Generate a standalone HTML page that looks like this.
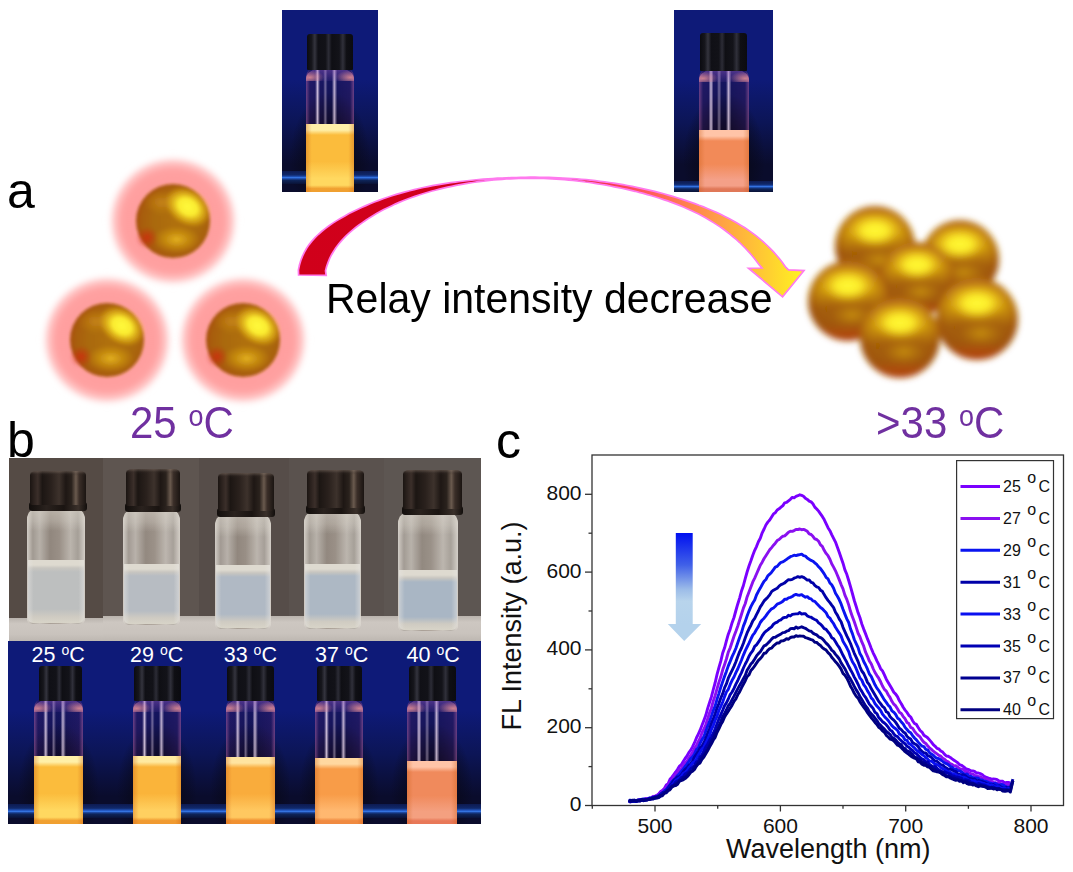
<!DOCTYPE html>
<html><head><meta charset="utf-8"><style>
html,body{margin:0;padding:0;background:#fff;}
body{width:1073px;height:872px;position:relative;overflow:hidden;font-family:"Liberation Sans", sans-serif;}
.t{position:absolute;white-space:nowrap;line-height:1;font-family:"Liberation Sans", sans-serif;}
</style></head><body>

<div class="t" style="left:7px;top:166px;font-size:50px;color:#000;">a</div>
<div class="t" style="left:7px;top:415px;font-size:50px;color:#000;">b</div>
<div class="t" style="left:496px;top:415.5px;font-size:50px;color:#000;">c</div>
<div style="position:absolute;left:282px;top:10px;width:96px;height:182px;overflow:hidden;background:linear-gradient(180deg,#0e1a78 0%,#0e1a78 38%,#0c1556 62%,#0a0c2c 85%,#0a0c2c 100%);"><div style="position:absolute;left:8px;top:70px;width:80px;height:122px;background:radial-gradient(ellipse 50% 55% at 50% 65%,rgba(8,8,22,0.9) 40%,rgba(8,8,22,0) 100%);"></div><div style="position:absolute;left:0;top:161px;width:96px;height:13px;background:linear-gradient(180deg,rgba(14,30,90,0.8) 0%,#10286a 30%,#2256c0 46%,#3c80f0 52%,#2050b0 58%,#0e2458 72%,#0a1236 100%);"></div><div style="position:absolute;left:24px;top:57px;width:48px;height:125px;border-radius:10px 10px 2px 2px / 10px 10px 2px 2px;background:linear-gradient(90deg,rgba(0,0,0,0) 19%,rgba(255,235,255,0.75) 24%,rgba(0,0,0,0) 29%,rgba(0,0,0,0) 36%,rgba(255,235,255,0.4) 40%,rgba(0,0,0,0) 45%,rgba(0,0,0,0) 54%,rgba(255,235,255,0.7) 59%,rgba(0,0,0,0) 65%),linear-gradient(90deg,rgba(170,90,150,0.6) 0%,rgba(60,25,80,0.4) 8%,rgba(30,12,50,0.35) 50%,rgba(60,25,80,0.4) 92%,rgba(170,90,150,0.6) 100%);"></div><div style="position:absolute;left:24px;top:59px;width:48px;height:12px;border-radius:12px 12px 0 0 / 10px 10px 0 0;background:radial-gradient(ellipse 30% 60% at 8% 70%,rgba(240,150,150,0.8),rgba(240,150,150,0) 100%),radial-gradient(ellipse 30% 60% at 92% 70%,rgba(240,150,150,0.8),rgba(240,150,150,0) 100%),linear-gradient(180deg,rgba(150,90,190,0.45),rgba(150,90,190,0.1));"></div><div style="position:absolute;left:24px;top:114px;width:48px;height:68px;background:linear-gradient(90deg,rgba(200,90,20,0.35) 0%,rgba(200,90,20,0) 12%,rgba(200,90,20,0) 88%,rgba(200,90,20,0.35) 100%),linear-gradient(180deg,#fff0a8 0px,#fff0a8 6px,#fbbc3c 11px,#fbbc3c 55%,#ffd860 80%,#ffd860 90%,#f0a030 95%,#f0a030 100%);"></div><div style="position:absolute;left:25px;top:24px;width:46px;height:36px;border-radius:3px 3px 1px 1px;background:linear-gradient(90deg,#0b0b10 0%,#16161c 10%,#34343e 17%,#101016 24%,#121218 40%,#2c2c36 47%,#0f0f14 54%,#131319 70%,#30303a 78%,#0f0f14 86%,#0b0b10 100%);"></div></div>
<div style="position:absolute;left:674px;top:10px;width:99px;height:182px;overflow:hidden;background:linear-gradient(180deg,#0e1a78 0%,#0e1a78 38%,#0c1556 62%,#0a0c2c 85%,#0a0c2c 100%);"><div style="position:absolute;left:9px;top:71px;width:82px;height:121px;background:radial-gradient(ellipse 50% 55% at 50% 65%,rgba(8,8,22,0.9) 40%,rgba(8,8,22,0) 100%);"></div><div style="position:absolute;left:0;top:171px;width:99px;height:11px;background:linear-gradient(180deg,rgba(14,30,90,0.8) 0%,#10286a 30%,#2256c0 46%,#3c80f0 52%,#2050b0 58%,#0e2458 72%,#0a1236 100%);"></div><div style="position:absolute;left:25px;top:58px;width:50px;height:124px;border-radius:10px 10px 2px 2px / 10px 10px 2px 2px;background:linear-gradient(90deg,rgba(0,0,0,0) 19%,rgba(255,235,255,0.75) 24%,rgba(0,0,0,0) 29%,rgba(0,0,0,0) 36%,rgba(255,235,255,0.4) 40%,rgba(0,0,0,0) 45%,rgba(0,0,0,0) 54%,rgba(255,235,255,0.7) 59%,rgba(0,0,0,0) 65%),linear-gradient(90deg,rgba(170,90,150,0.6) 0%,rgba(60,25,80,0.4) 8%,rgba(30,12,50,0.35) 50%,rgba(60,25,80,0.4) 92%,rgba(170,90,150,0.6) 100%);"></div><div style="position:absolute;left:25px;top:60px;width:50px;height:12px;border-radius:12px 12px 0 0 / 10px 10px 0 0;background:radial-gradient(ellipse 30% 60% at 8% 70%,rgba(240,150,150,0.8),rgba(240,150,150,0) 100%),radial-gradient(ellipse 30% 60% at 92% 70%,rgba(240,150,150,0.8),rgba(240,150,150,0) 100%),linear-gradient(180deg,rgba(150,90,190,0.45),rgba(150,90,190,0.1));"></div><div style="position:absolute;left:25px;top:120px;width:50px;height:62px;background:linear-gradient(90deg,rgba(200,90,20,0.35) 0%,rgba(200,90,20,0) 12%,rgba(200,90,20,0) 88%,rgba(200,90,20,0.35) 100%),linear-gradient(180deg,#ffc4a8 0px,#ffc4a8 6px,#f28a58 11px,#f28a58 55%,#f4a088 80%,#f4a088 90%,#e07858 95%,#e07858 100%);"></div><div style="position:absolute;left:26px;top:23px;width:47px;height:38px;border-radius:3px 3px 1px 1px;background:linear-gradient(90deg,#0b0b10 0%,#16161c 10%,#34343e 17%,#101016 24%,#121218 40%,#2c2c36 47%,#0f0f14 54%,#131319 70%,#30303a 78%,#0f0f14 86%,#0b0b10 100%);"></div></div>
<svg style="position:absolute;left:0;top:0" width="1073" height="872" viewBox="0 0 1073 872"><defs><radialGradient id="gbase" cx="0.55" cy="0.5" r="0.58">
<stop offset="0" stop-color="#b07008"/><stop offset="0.5" stop-color="#aa6a08"/><stop offset="0.8" stop-color="#a85e0a"/><stop offset="1" stop-color="#a84c16"/></radialGradient>
<radialGradient id="ghi" cx="0.5" cy="0.5" r="0.5"><stop offset="0" stop-color="#fffa3c"/><stop offset="0.4" stop-color="#fff232" stop-opacity="0.95"/><stop offset="0.75" stop-color="#f8d020" stop-opacity="0.45"/><stop offset="1" stop-color="#e8b818" stop-opacity="0"/></radialGradient>
<radialGradient id="glo" cx="0.5" cy="0.5" r="0.5"><stop offset="0" stop-color="#e6b420" stop-opacity="0.95"/><stop offset="1" stop-color="#d8a010" stop-opacity="0"/></radialGradient>
<radialGradient id="gor" cx="0.5" cy="0.5" r="0.5"><stop offset="0" stop-color="#cc8a1c" stop-opacity="0.8"/><stop offset="1" stop-color="#c08018" stop-opacity="0"/></radialGradient>
<radialGradient id="gred" cx="0.5" cy="0.5" r="0.5"><stop offset="0" stop-color="#d02a10" stop-opacity="0.85"/><stop offset="1" stop-color="#c03010" stop-opacity="0"/></radialGradient>
<radialGradient id="halo" cx="0.5" cy="0.5" r="0.5"><stop offset="0" stop-color="#ff9e9e"/><stop offset="0.76" stop-color="#ffa0a0"/><stop offset="0.88" stop-color="#ffb4b4" stop-opacity="0.75"/><stop offset="1" stop-color="#ffffff" stop-opacity="0"/></radialGradient>
<filter id="b1" x="-20%" y="-20%" width="140%" height="140%"><feGaussianBlur stdDeviation="1.7"/></filter>
<filter id="b3" x="-20%" y="-20%" width="140%" height="140%"><feGaussianBlur stdDeviation="2.5"/></filter></defs><circle cx="173" cy="221" r="67" fill="url(#halo)" filter="url(#b3)"/><circle cx="107" cy="340" r="67" fill="url(#halo)" filter="url(#b3)"/><circle cx="243" cy="340" r="67" fill="url(#halo)" filter="url(#b3)"/><g filter="url(#b1)"><circle cx="173" cy="221" r="37" fill="url(#gbase)"/><ellipse cx="161.9" cy="202.5" rx="18.5" ry="12.9" fill="url(#gor)"/><ellipse cx="176.7" cy="239.5" rx="24.1" ry="14.1" fill="url(#glo)"/><ellipse cx="147.1" cy="237.7" rx="11.1" ry="11.1" fill="url(#gred)"/><ellipse cx="187.8" cy="206.9" rx="25.2" ry="18.5" transform="rotate(32 187.8 206.9)" fill="url(#ghi)"/></g><g filter="url(#b1)"><circle cx="107" cy="340" r="37" fill="url(#gbase)"/><ellipse cx="95.9" cy="321.5" rx="18.5" ry="12.9" fill="url(#gor)"/><ellipse cx="110.7" cy="358.5" rx="24.1" ry="14.1" fill="url(#glo)"/><ellipse cx="81.1" cy="356.6" rx="11.1" ry="11.1" fill="url(#gred)"/><ellipse cx="121.8" cy="325.9" rx="25.2" ry="18.5" transform="rotate(32 121.8 325.9)" fill="url(#ghi)"/></g><g filter="url(#b1)"><circle cx="243" cy="340" r="37" fill="url(#gbase)"/><ellipse cx="231.9" cy="321.5" rx="18.5" ry="12.9" fill="url(#gor)"/><ellipse cx="246.7" cy="358.5" rx="24.1" ry="14.1" fill="url(#glo)"/><ellipse cx="217.1" cy="356.6" rx="11.1" ry="11.1" fill="url(#gred)"/><ellipse cx="257.8" cy="325.9" rx="25.2" ry="18.5" transform="rotate(32 257.8 325.9)" fill="url(#ghi)"/></g></svg>
<svg style="position:absolute;left:0;top:0" width="1073" height="872" viewBox="0 0 1073 872">
<defs><linearGradient id="ag" x1="298" y1="0" x2="805" y2="0" gradientUnits="userSpaceOnUse">
<stop offset="0" stop-color="#d0001a"/><stop offset="0.45" stop-color="#d2001e"/><stop offset="0.66" stop-color="#ff4c5c"/>
<stop offset="0.82" stop-color="#ff9a48"/><stop offset="0.93" stop-color="#ffd030"/><stop offset="1" stop-color="#fff520"/></linearGradient></defs>
<path d="M298.6,275.0 L298.4,270.0 L299.4,265.3 L300.7,260.7 L302.4,256.4 L304.3,252.3 L306.6,248.3 L309.1,244.6 L311.9,241.1 L315.0,237.7 L318.2,234.5 L321.6,231.5 L325.2,228.6 L329.0,225.8 L332.8,223.1 L336.8,220.6 L340.8,218.2 L344.9,215.9 L349.0,213.6 L353.2,211.5 L357.4,209.4 L361.6,207.5 L365.9,205.6 L370.1,203.8 L374.4,202.0 L378.8,200.4 L383.1,198.8 L387.5,197.3 L391.9,195.8 L396.3,194.4 L400.8,193.1 L405.3,191.9 L409.7,190.7 L414.2,189.6 L418.8,188.5 L423.3,187.5 L427.9,186.6 L432.4,185.7 L437.0,184.9 L441.6,184.1 L446.2,183.4 L450.8,182.7 L455.5,182.1 L460.1,181.5 L464.8,181.0 L469.4,180.5 L474.1,180.0 L478.7,179.6 L483.4,179.2 L488.1,178.8 L492.8,178.5 L497.4,178.2 L502.1,178.0 L506.8,177.8 L511.5,177.6 L516.1,177.5 L520.8,177.3 L525.5,177.3 L530.2,177.2 L534.9,177.2 L539.5,177.3 L544.2,177.3 L548.9,177.4 L553.5,177.6 L558.2,177.8 L562.9,178.0 L567.5,178.3 L572.2,178.6 L576.8,178.9 L581.5,179.3 L586.1,179.7 L590.7,180.2 L595.3,180.7 L600.0,181.3 L604.6,181.9 L609.2,182.5 L613.8,183.2 L618.4,183.9 L622.9,184.7 L627.5,185.5 L632.1,186.4 L636.6,187.3 L641.2,188.3 L645.7,189.3 L650.2,190.3 L654.7,191.4 L659.2,192.6 L663.7,193.8 L668.2,195.1 L672.7,196.4 L677.1,197.7 L681.5,199.1 L686.0,200.6 L690.4,202.1 L694.8,203.6 L699.1,205.3 L703.5,206.9 L707.8,208.7 L712.1,210.5 L716.4,212.4 L720.6,214.3 L724.8,216.4 L728.9,218.5 L733.0,220.7 L737.0,223.0 L741.0,225.4 L744.9,227.8 L748.7,230.4 L752.5,233.1 L756.2,235.9 L759.8,238.8 L763.3,241.8 L766.7,245.0 L770.1,248.3 L773.3,251.6 L776.5,255.2 L779.5,258.8 L782.4,262.6 L785.2,266.6 L788.5,269.8 L804.0,270.6 L782.6,296.8 L748.5,268.2 L762.0,268.0 L759.3,264.9 L756.7,261.4 L754.0,258.0 L751.3,254.7 L748.5,251.6 L745.6,248.5 L742.6,245.5 L739.6,242.5 L736.5,239.7 L733.3,237.0 L730.1,234.3 L726.8,231.8 L723.5,229.3 L720.1,226.9 L716.6,224.6 L713.1,222.4 L709.6,220.2 L705.9,218.1 L702.3,216.1 L698.6,214.1 L694.8,212.3 L691.1,210.5 L687.2,208.7 L683.4,207.0 L679.5,205.4 L675.6,203.9 L671.6,202.4 L667.7,200.9 L663.6,199.6 L659.6,198.2 L655.6,197.0 L651.5,195.7 L647.4,194.6 L643.3,193.4 L639.2,192.4 L635.1,191.3 L631.0,190.3 L626.9,189.4 L622.7,188.5 L618.6,187.6 L614.4,186.8 L610.3,186.0 L606.2,185.2 L602.0,184.5 L597.9,183.8 L593.7,183.1 L589.6,182.5 L585.4,182.0 L581.3,181.4 L577.1,180.9 L572.9,180.5 L568.8,180.1 L564.6,179.7 L560.5,179.4 L556.3,179.1 L552.1,178.9 L548.0,178.7 L543.8,178.5 L539.6,178.4 L535.5,178.3 L531.3,178.3 L527.1,178.3 L522.9,178.4 L518.8,178.5 L514.6,178.6 L510.4,178.8 L506.2,179.0 L502.1,179.3 L497.9,179.6 L493.7,180.0 L489.5,180.4 L485.3,180.9 L481.1,181.4 L476.9,181.9 L472.8,182.5 L468.6,183.2 L464.4,183.9 L460.2,184.6 L456.0,185.4 L451.8,186.3 L447.7,187.2 L443.5,188.1 L439.4,189.1 L435.2,190.2 L431.1,191.3 L427.0,192.5 L422.9,193.7 L418.9,195.0 L414.9,196.4 L410.9,197.8 L406.9,199.3 L403.0,200.8 L399.1,202.4 L395.2,204.1 L391.4,205.9 L387.6,207.7 L383.8,209.6 L380.1,211.6 L376.5,213.6 L372.9,215.7 L369.3,217.9 L365.8,220.2 L362.4,222.6 L359.0,225.0 L355.7,227.5 L352.5,230.1 L349.3,232.8 L346.3,235.6 L343.4,238.6 L340.7,241.6 L338.1,244.8 L335.7,248.1 L333.5,251.5 L331.4,255.0 L329.6,258.7 L328.0,262.6 L326.6,266.6 L325.5,270.8 L326.2,275.4 Z" fill="url(#ag)" stroke="#ff7aee" stroke-width="1.7" stroke-linejoin="miter"/>
</svg>
<div class="t" style="left:326px;top:278px;font-size:41px;color:#000;transform:scaleY(1.04);transform-origin:0 0;">Relay intensity decrease</div>
<svg style="position:absolute;left:0;top:0" width="1073" height="872" viewBox="0 0 1073 872"><defs><linearGradient id="cb" x1="0" y1="0" x2="0" y2="1"><stop offset="0" stop-color="#c8841a"/><stop offset="0.15" stop-color="#dca818"/><stop offset="0.35" stop-color="#d09a10"/><stop offset="0.58" stop-color="#a45e06"/><stop offset="0.8" stop-color="#a05808"/><stop offset="0.93" stop-color="#b84812"/><stop offset="1" stop-color="#c03c12"/></linearGradient><radialGradient id="crim" cx="0.5" cy="0.5" r="0.5"><stop offset="0.7" stop-color="#9a5008" stop-opacity="0"/><stop offset="1" stop-color="#a04c10" stop-opacity="0.6"/></radialGradient><radialGradient id="chi" cx="0.5" cy="0.5" r="0.5"><stop offset="0" stop-color="#fffa34"/><stop offset="0.45" stop-color="#fff02c" stop-opacity="0.95"/><stop offset="0.8" stop-color="#f0c818" stop-opacity="0.35"/><stop offset="1" stop-color="#e0b010" stop-opacity="0"/></radialGradient><radialGradient id="clo" cx="0.5" cy="0.5" r="0.5"><stop offset="0" stop-color="#d09a14" stop-opacity="0.8"/><stop offset="1" stop-color="#c08a10" stop-opacity="0"/></radialGradient><filter id="cbl" x="-10%" y="-10%" width="120%" height="120%"><feGaussianBlur stdDeviation="3.2"/></filter></defs><g filter="url(#cbl)"><circle cx="875" cy="246" r="40" fill="url(#cb)"/><circle cx="875" cy="246" r="40" fill="url(#crim)"/><ellipse cx="879.0" cy="260.0" rx="22.0" ry="12.0" fill="url(#clo)"/><ellipse cx="875.0" cy="230.8" rx="28.0" ry="16.8" fill="url(#chi)"/><circle cx="960" cy="259" r="39" fill="url(#cb)"/><circle cx="960" cy="259" r="39" fill="url(#crim)"/><ellipse cx="963.9" cy="272.6" rx="21.5" ry="11.7" fill="url(#clo)"/><ellipse cx="960.0" cy="244.2" rx="27.3" ry="16.4" fill="url(#chi)"/><circle cx="917" cy="279" r="37" fill="url(#cb)"/><circle cx="917" cy="279" r="37" fill="url(#crim)"/><ellipse cx="920.7" cy="291.9" rx="20.4" ry="11.1" fill="url(#clo)"/><ellipse cx="917.0" cy="264.9" rx="25.9" ry="15.5" fill="url(#chi)"/><circle cx="848" cy="301" r="40" fill="url(#cb)"/><circle cx="848" cy="301" r="40" fill="url(#crim)"/><ellipse cx="852.0" cy="315.0" rx="22.0" ry="12.0" fill="url(#clo)"/><ellipse cx="848.0" cy="285.8" rx="28.0" ry="16.8" fill="url(#chi)"/><circle cx="977" cy="319" r="41" fill="url(#cb)"/><circle cx="977" cy="319" r="41" fill="url(#crim)"/><ellipse cx="981.1" cy="333.4" rx="22.6" ry="12.3" fill="url(#clo)"/><ellipse cx="977.0" cy="303.4" rx="28.7" ry="17.2" fill="url(#chi)"/><circle cx="900" cy="338" r="40" fill="url(#cb)"/><circle cx="900" cy="338" r="40" fill="url(#crim)"/><ellipse cx="904.0" cy="352.0" rx="22.0" ry="12.0" fill="url(#clo)"/><ellipse cx="900.0" cy="322.8" rx="28.0" ry="16.8" fill="url(#chi)"/></g></svg>
<div class="t" style="left:130px;top:401px;font-size:42px;color:#7030a0;transform:scaleY(1.06);transform-origin:0 0;">25 <span style="font-size:27px;vertical-align:11px;">o</span>C</div>
<div class="t" style="left:876px;top:401px;font-size:42px;color:#7030a0;transform:scaleY(1.06);transform-origin:0 0;">&gt;33 <span style="font-size:27px;vertical-align:11px;">o</span>C</div>
<div style="position:absolute;left:9px;top:458px;width:94px;height:183px;overflow:hidden;background:#554b45;"><div style="position:absolute;left:0;top:160px;width:94px;height:23px;background:linear-gradient(180deg,#b9b3ad 0%,#cdc7c1 25%,#c9c3bd 70%,#bdb7b1 100%);"></div><div style="position:absolute;left:18px;top:49px;width:58px;height:117px;border-radius:13px 13px 5px 5px / 12px 12px 5px 5px;background:linear-gradient(180deg,rgba(225,220,210,0.5) 0px,rgba(225,220,210,0.3) 14px,rgba(0,0,0,0) 24px),linear-gradient(90deg,rgba(220,215,208,0.92) 0%,rgba(175,168,160,0.85) 10%,rgba(200,194,186,0.85) 22%,rgba(160,150,140,0.8) 40%,rgba(170,160,150,0.8) 55%,rgba(205,199,191,0.85) 75%,rgba(180,174,166,0.85) 88%,rgba(222,217,210,0.92) 100%);"></div><div style="position:absolute;left:19px;top:102px;width:56px;height:63px;border-radius:0 0 5px 5px;background:linear-gradient(90deg,rgba(230,228,225,0.5) 0%,rgba(0,0,0,0) 10%,rgba(0,0,0,0) 90%,rgba(230,228,225,0.5) 100%),linear-gradient(180deg,#dedad0 0px,#dedad0 5px,#c8c6c0 8px,#bdbfbf 12px,#bdbfbf 78%,#cfcbc2 90%,#d8d4c8 100%);"></div><div style="position:absolute;left:20px;top:44px;width:58px;height:9px;border-radius:3px;background:linear-gradient(90deg,#120e0c,#2a221e 30%,#1a1411 60%,#3a302a 85%,#120e0c);"></div><div style="position:absolute;left:21px;top:13px;width:56px;height:34px;border-radius:6px 6px 2px 2px / 4px 4px 2px 2px;background:linear-gradient(180deg,rgba(120,105,95,0.55) 0px,rgba(60,50,45,0.2) 3px,rgba(0,0,0,0) 5px),linear-gradient(90deg,#1b1512 0%,#2e2420 8%,#3b2f2a 14%,#1c1613 22%,#2a211d 38%,#3d322c 52%,#1e1714 64%,#2a221d 74%,#6a5a4e 82%,#3a2e28 88%,#1b1512 100%);"></div></div>
<div style="position:absolute;left:103px;top:458px;width:96px;height:183px;overflow:hidden;background:#5e5550;"><div style="position:absolute;left:0;top:158px;width:96px;height:25px;background:linear-gradient(180deg,#b9b3ad 0%,#cdc7c1 25%,#c9c3bd 70%,#bdb7b1 100%);"></div><div style="position:absolute;left:20px;top:50px;width:57px;height:117px;border-radius:13px 13px 5px 5px / 12px 12px 5px 5px;background:linear-gradient(180deg,rgba(225,220,210,0.5) 0px,rgba(225,220,210,0.3) 14px,rgba(0,0,0,0) 24px),linear-gradient(90deg,rgba(220,215,208,0.92) 0%,rgba(175,168,160,0.85) 10%,rgba(200,194,186,0.85) 22%,rgba(160,150,140,0.8) 40%,rgba(170,160,150,0.8) 55%,rgba(205,199,191,0.85) 75%,rgba(180,174,166,0.85) 88%,rgba(222,217,210,0.92) 100%);"></div><div style="position:absolute;left:21px;top:106px;width:55px;height:60px;border-radius:0 0 5px 5px;background:linear-gradient(90deg,rgba(230,228,225,0.5) 0%,rgba(0,0,0,0) 10%,rgba(0,0,0,0) 90%,rgba(230,228,225,0.5) 100%),linear-gradient(180deg,#dedad0 0px,#dedad0 5px,#c8c6c0 8px,#b7bcc2 12px,#b7bcc2 78%,#cfcbc2 90%,#d8d4c8 100%);"></div><div style="position:absolute;left:22px;top:45px;width:56px;height:9px;border-radius:3px;background:linear-gradient(90deg,#120e0c,#2a221e 30%,#1a1411 60%,#3a302a 85%,#120e0c);"></div><div style="position:absolute;left:23px;top:11px;width:54px;height:37px;border-radius:6px 6px 2px 2px / 4px 4px 2px 2px;background:linear-gradient(180deg,rgba(120,105,95,0.55) 0px,rgba(60,50,45,0.2) 3px,rgba(0,0,0,0) 5px),linear-gradient(90deg,#1b1512 0%,#2e2420 8%,#3b2f2a 14%,#1c1613 22%,#2a211d 38%,#3d322c 52%,#1e1714 64%,#2a221d 74%,#6a5a4e 82%,#3a2e28 88%,#1b1512 100%);"></div></div>
<div style="position:absolute;left:199px;top:458px;width:90px;height:183px;overflow:hidden;background:#564d49;"><div style="position:absolute;left:0;top:158px;width:90px;height:25px;background:linear-gradient(180deg,#b9b3ad 0%,#cdc7c1 25%,#c9c3bd 70%,#bdb7b1 100%);"></div><div style="position:absolute;left:16px;top:55px;width:56px;height:116px;border-radius:12px 12px 5px 5px / 12px 12px 5px 5px;background:linear-gradient(180deg,rgba(225,220,210,0.5) 0px,rgba(225,220,210,0.3) 14px,rgba(0,0,0,0) 24px),linear-gradient(90deg,rgba(220,215,208,0.92) 0%,rgba(175,168,160,0.85) 10%,rgba(200,194,186,0.85) 22%,rgba(160,150,140,0.8) 40%,rgba(170,160,150,0.8) 55%,rgba(205,199,191,0.85) 75%,rgba(180,174,166,0.85) 88%,rgba(222,217,210,0.92) 100%);"></div><div style="position:absolute;left:17px;top:107px;width:54px;height:63px;border-radius:0 0 5px 5px;background:linear-gradient(90deg,rgba(230,228,225,0.5) 0%,rgba(0,0,0,0) 10%,rgba(0,0,0,0) 90%,rgba(230,228,225,0.5) 100%),linear-gradient(180deg,#dedad0 0px,#dedad0 5px,#c8c6c0 8px,#b0b9c4 12px,#b0b9c4 78%,#cfcbc2 90%,#d8d4c8 100%);"></div><div style="position:absolute;left:18px;top:50px;width:58px;height:9px;border-radius:3px;background:linear-gradient(90deg,#120e0c,#2a221e 30%,#1a1411 60%,#3a302a 85%,#120e0c);"></div><div style="position:absolute;left:19px;top:15px;width:56px;height:38px;border-radius:6px 6px 2px 2px / 4px 4px 2px 2px;background:linear-gradient(180deg,rgba(120,105,95,0.55) 0px,rgba(60,50,45,0.2) 3px,rgba(0,0,0,0) 5px),linear-gradient(90deg,#1b1512 0%,#2e2420 8%,#3b2f2a 14%,#1c1613 22%,#2a211d 38%,#3d322c 52%,#1e1714 64%,#2a221d 74%,#6a5a4e 82%,#3a2e28 88%,#1b1512 100%);"></div></div>
<div style="position:absolute;left:289px;top:458px;width:95px;height:183px;overflow:hidden;background:#5a524e;"><div style="position:absolute;left:0;top:158px;width:95px;height:25px;background:linear-gradient(180deg,#b9b3ad 0%,#cdc7c1 25%,#c9c3bd 70%,#bdb7b1 100%);"></div><div style="position:absolute;left:15px;top:52px;width:57px;height:119px;border-radius:13px 13px 5px 5px / 12px 12px 5px 5px;background:linear-gradient(180deg,rgba(225,220,210,0.5) 0px,rgba(225,220,210,0.3) 14px,rgba(0,0,0,0) 24px),linear-gradient(90deg,rgba(220,215,208,0.92) 0%,rgba(175,168,160,0.85) 10%,rgba(200,194,186,0.85) 22%,rgba(160,150,140,0.8) 40%,rgba(170,160,150,0.8) 55%,rgba(205,199,191,0.85) 75%,rgba(180,174,166,0.85) 88%,rgba(222,217,210,0.92) 100%);"></div><div style="position:absolute;left:16px;top:106px;width:55px;height:64px;border-radius:0 0 5px 5px;background:linear-gradient(90deg,rgba(230,228,225,0.5) 0%,rgba(0,0,0,0) 10%,rgba(0,0,0,0) 90%,rgba(230,228,225,0.5) 100%),linear-gradient(180deg,#dedad0 0px,#dedad0 5px,#c8c6c0 8px,#adb8c4 12px,#adb8c4 78%,#cfcbc2 90%,#d8d4c8 100%);"></div><div style="position:absolute;left:17px;top:47px;width:59px;height:9px;border-radius:3px;background:linear-gradient(90deg,#120e0c,#2a221e 30%,#1a1411 60%,#3a302a 85%,#120e0c);"></div><div style="position:absolute;left:18px;top:12px;width:57px;height:38px;border-radius:6px 6px 2px 2px / 4px 4px 2px 2px;background:linear-gradient(180deg,rgba(120,105,95,0.55) 0px,rgba(60,50,45,0.2) 3px,rgba(0,0,0,0) 5px),linear-gradient(90deg,#1b1512 0%,#2e2420 8%,#3b2f2a 14%,#1c1613 22%,#2a211d 38%,#3d322c 52%,#1e1714 64%,#2a221d 74%,#6a5a4e 82%,#3a2e28 88%,#1b1512 100%);"></div></div>
<div style="position:absolute;left:384px;top:458px;width:97px;height:183px;overflow:hidden;background:#5d5652;"><div style="position:absolute;left:0;top:158px;width:97px;height:25px;background:linear-gradient(180deg,#b9b3ad 0%,#cdc7c1 25%,#c9c3bd 70%,#bdb7b1 100%);"></div><div style="position:absolute;left:14px;top:53px;width:60px;height:120px;border-radius:13px 13px 5px 5px / 12px 12px 5px 5px;background:linear-gradient(180deg,rgba(225,220,210,0.5) 0px,rgba(225,220,210,0.3) 14px,rgba(0,0,0,0) 24px),linear-gradient(90deg,rgba(220,215,208,0.92) 0%,rgba(175,168,160,0.85) 10%,rgba(200,194,186,0.85) 22%,rgba(160,150,140,0.8) 40%,rgba(170,160,150,0.8) 55%,rgba(205,199,191,0.85) 75%,rgba(180,174,166,0.85) 88%,rgba(222,217,210,0.92) 100%);"></div><div style="position:absolute;left:15px;top:112px;width:58px;height:60px;border-radius:0 0 5px 5px;background:linear-gradient(90deg,rgba(230,228,225,0.5) 0%,rgba(0,0,0,0) 10%,rgba(0,0,0,0) 90%,rgba(230,228,225,0.5) 100%),linear-gradient(180deg,#dedad0 0px,#dedad0 5px,#c8c6c0 8px,#a9b6c4 12px,#a9b6c4 78%,#cfcbc2 90%,#d8d4c8 100%);"></div><div style="position:absolute;left:18px;top:48px;width:61px;height:9px;border-radius:3px;background:linear-gradient(90deg,#120e0c,#2a221e 30%,#1a1411 60%,#3a302a 85%,#120e0c);"></div><div style="position:absolute;left:19px;top:12px;width:59px;height:39px;border-radius:6px 6px 2px 2px / 4px 4px 2px 2px;background:linear-gradient(180deg,rgba(120,105,95,0.55) 0px,rgba(60,50,45,0.2) 3px,rgba(0,0,0,0) 5px),linear-gradient(90deg,#1b1512 0%,#2e2420 8%,#3b2f2a 14%,#1c1613 22%,#2a211d 38%,#3d322c 52%,#1e1714 64%,#2a221d 74%,#6a5a4e 82%,#3a2e28 88%,#1b1512 100%);"></div></div>
<div style="position:absolute;left:8px;top:641px;width:473px;height:183px;background:#0c1464;"></div>
<div style="position:absolute;left:8px;top:641px;width:95px;height:183px;overflow:hidden;background:linear-gradient(180deg,#0e1a78 0%,#0e1a78 38%,#0c1556 62%,#0a0c2c 85%,#0a0c2c 100%);"><div style="position:absolute;left:10px;top:70px;width:81px;height:123px;background:radial-gradient(ellipse 50% 55% at 50% 65%,rgba(8,8,22,0.9) 40%,rgba(8,8,22,0) 100%);"></div><div style="position:absolute;left:0;top:163px;width:95px;height:14px;background:linear-gradient(180deg,rgba(14,30,90,0.8) 0%,#10286a 30%,#2256c0 46%,#3c80f0 52%,#2050b0 58%,#0e2458 72%,#0a1236 100%);"></div><div style="position:absolute;left:26px;top:57px;width:49px;height:126px;border-radius:10px 10px 2px 2px / 10px 10px 2px 2px;background:linear-gradient(90deg,rgba(0,0,0,0) 19%,rgba(255,235,255,0.75) 24%,rgba(0,0,0,0) 29%,rgba(0,0,0,0) 36%,rgba(255,235,255,0.4) 40%,rgba(0,0,0,0) 45%,rgba(0,0,0,0) 54%,rgba(255,235,255,0.7) 59%,rgba(0,0,0,0) 65%),linear-gradient(90deg,rgba(170,90,150,0.6) 0%,rgba(60,25,80,0.4) 8%,rgba(30,12,50,0.35) 50%,rgba(60,25,80,0.4) 92%,rgba(170,90,150,0.6) 100%);"></div><div style="position:absolute;left:26px;top:59px;width:49px;height:12px;border-radius:12px 12px 0 0 / 10px 10px 0 0;background:radial-gradient(ellipse 30% 60% at 8% 70%,rgba(240,150,150,0.8),rgba(240,150,150,0) 100%),radial-gradient(ellipse 30% 60% at 92% 70%,rgba(240,150,150,0.8),rgba(240,150,150,0) 100%),linear-gradient(180deg,rgba(150,90,190,0.45),rgba(150,90,190,0.1));"></div><div style="position:absolute;left:26px;top:115px;width:49px;height:68px;background:linear-gradient(90deg,rgba(200,90,20,0.35) 0%,rgba(200,90,20,0) 12%,rgba(200,90,20,0) 88%,rgba(200,90,20,0.35) 100%),linear-gradient(180deg,#fff0a8 0px,#fff0a8 6px,#fbbc3c 11px,#fbbc3c 55%,#ffd860 80%,#ffd860 90%,#f0a030 95%,#f0a030 100%);"></div><div style="position:absolute;left:31px;top:25px;width:43px;height:35px;border-radius:3px 3px 1px 1px;background:linear-gradient(90deg,#0b0b10 0%,#16161c 10%,#34343e 17%,#101016 24%,#121218 40%,#2c2c36 47%,#0f0f14 54%,#131319 70%,#30303a 78%,#0f0f14 86%,#0b0b10 100%);"></div></div>
<div style="position:absolute;left:103px;top:641px;width:96px;height:183px;overflow:hidden;background:linear-gradient(180deg,#0e1a78 0%,#0e1a78 38%,#0c1556 62%,#0a0c2c 85%,#0a0c2c 100%);"><div style="position:absolute;left:14px;top:70px;width:80px;height:123px;background:radial-gradient(ellipse 50% 55% at 50% 65%,rgba(8,8,22,0.9) 40%,rgba(8,8,22,0) 100%);"></div><div style="position:absolute;left:0;top:163px;width:96px;height:14px;background:linear-gradient(180deg,rgba(14,30,90,0.8) 0%,#10286a 30%,#2256c0 46%,#3c80f0 52%,#2050b0 58%,#0e2458 72%,#0a1236 100%);"></div><div style="position:absolute;left:30px;top:57px;width:48px;height:126px;border-radius:10px 10px 2px 2px / 10px 10px 2px 2px;background:linear-gradient(90deg,rgba(0,0,0,0) 19%,rgba(255,235,255,0.75) 24%,rgba(0,0,0,0) 29%,rgba(0,0,0,0) 36%,rgba(255,235,255,0.4) 40%,rgba(0,0,0,0) 45%,rgba(0,0,0,0) 54%,rgba(255,235,255,0.7) 59%,rgba(0,0,0,0) 65%),linear-gradient(90deg,rgba(170,90,150,0.6) 0%,rgba(60,25,80,0.4) 8%,rgba(30,12,50,0.35) 50%,rgba(60,25,80,0.4) 92%,rgba(170,90,150,0.6) 100%);"></div><div style="position:absolute;left:30px;top:59px;width:48px;height:12px;border-radius:12px 12px 0 0 / 10px 10px 0 0;background:radial-gradient(ellipse 30% 60% at 8% 70%,rgba(240,150,150,0.8),rgba(240,150,150,0) 100%),radial-gradient(ellipse 30% 60% at 92% 70%,rgba(240,150,150,0.8),rgba(240,150,150,0) 100%),linear-gradient(180deg,rgba(150,90,190,0.45),rgba(150,90,190,0.1));"></div><div style="position:absolute;left:30px;top:115px;width:48px;height:68px;background:linear-gradient(90deg,rgba(200,90,20,0.35) 0%,rgba(200,90,20,0) 12%,rgba(200,90,20,0) 88%,rgba(200,90,20,0.35) 100%),linear-gradient(180deg,#ffeaa0 0px,#ffeaa0 6px,#fab43a 11px,#fab43a 55%,#ffd060 80%,#ffd060 90%,#f09a30 95%,#f09a30 100%);"></div><div style="position:absolute;left:31px;top:25px;width:47px;height:35px;border-radius:3px 3px 1px 1px;background:linear-gradient(90deg,#0b0b10 0%,#16161c 10%,#34343e 17%,#101016 24%,#121218 40%,#2c2c36 47%,#0f0f14 54%,#131319 70%,#30303a 78%,#0f0f14 86%,#0b0b10 100%);"></div></div>
<div style="position:absolute;left:199px;top:641px;width:90px;height:183px;overflow:hidden;background:linear-gradient(180deg,#0e1a78 0%,#0e1a78 38%,#0c1556 62%,#0a0c2c 85%,#0a0c2c 100%);"><div style="position:absolute;left:11px;top:70px;width:81px;height:123px;background:radial-gradient(ellipse 50% 55% at 50% 65%,rgba(8,8,22,0.9) 40%,rgba(8,8,22,0) 100%);"></div><div style="position:absolute;left:0;top:163px;width:90px;height:14px;background:linear-gradient(180deg,rgba(14,30,90,0.8) 0%,#10286a 30%,#2256c0 46%,#3c80f0 52%,#2050b0 58%,#0e2458 72%,#0a1236 100%);"></div><div style="position:absolute;left:27px;top:57px;width:49px;height:126px;border-radius:10px 10px 2px 2px / 10px 10px 2px 2px;background:linear-gradient(90deg,rgba(0,0,0,0) 19%,rgba(255,235,255,0.75) 24%,rgba(0,0,0,0) 29%,rgba(0,0,0,0) 36%,rgba(255,235,255,0.4) 40%,rgba(0,0,0,0) 45%,rgba(0,0,0,0) 54%,rgba(255,235,255,0.7) 59%,rgba(0,0,0,0) 65%),linear-gradient(90deg,rgba(170,90,150,0.6) 0%,rgba(60,25,80,0.4) 8%,rgba(30,12,50,0.35) 50%,rgba(60,25,80,0.4) 92%,rgba(170,90,150,0.6) 100%);"></div><div style="position:absolute;left:27px;top:59px;width:49px;height:12px;border-radius:12px 12px 0 0 / 10px 10px 0 0;background:radial-gradient(ellipse 30% 60% at 8% 70%,rgba(240,150,150,0.8),rgba(240,150,150,0) 100%),radial-gradient(ellipse 30% 60% at 92% 70%,rgba(240,150,150,0.8),rgba(240,150,150,0) 100%),linear-gradient(180deg,rgba(150,90,190,0.45),rgba(150,90,190,0.1));"></div><div style="position:absolute;left:27px;top:116px;width:49px;height:67px;background:linear-gradient(90deg,rgba(200,90,20,0.35) 0%,rgba(200,90,20,0) 12%,rgba(200,90,20,0) 88%,rgba(200,90,20,0.35) 100%),linear-gradient(180deg,#ffe4a0 0px,#ffe4a0 6px,#f9ac3c 11px,#f9ac3c 55%,#ffc860 80%,#ffc860 90%,#f09030 95%,#f09030 100%);"></div><div style="position:absolute;left:28px;top:25px;width:47px;height:35px;border-radius:3px 3px 1px 1px;background:linear-gradient(90deg,#0b0b10 0%,#16161c 10%,#34343e 17%,#101016 24%,#121218 40%,#2c2c36 47%,#0f0f14 54%,#131319 70%,#30303a 78%,#0f0f14 86%,#0b0b10 100%);"></div></div>
<div style="position:absolute;left:289px;top:641px;width:95px;height:183px;overflow:hidden;background:linear-gradient(180deg,#0e1a78 0%,#0e1a78 38%,#0c1556 62%,#0a0c2c 85%,#0a0c2c 100%);"><div style="position:absolute;left:10px;top:70px;width:80px;height:123px;background:radial-gradient(ellipse 50% 55% at 50% 65%,rgba(8,8,22,0.9) 40%,rgba(8,8,22,0) 100%);"></div><div style="position:absolute;left:0;top:163px;width:95px;height:14px;background:linear-gradient(180deg,rgba(14,30,90,0.8) 0%,#10286a 30%,#2256c0 46%,#3c80f0 52%,#2050b0 58%,#0e2458 72%,#0a1236 100%);"></div><div style="position:absolute;left:26px;top:57px;width:48px;height:126px;border-radius:10px 10px 2px 2px / 10px 10px 2px 2px;background:linear-gradient(90deg,rgba(0,0,0,0) 19%,rgba(255,235,255,0.75) 24%,rgba(0,0,0,0) 29%,rgba(0,0,0,0) 36%,rgba(255,235,255,0.4) 40%,rgba(0,0,0,0) 45%,rgba(0,0,0,0) 54%,rgba(255,235,255,0.7) 59%,rgba(0,0,0,0) 65%),linear-gradient(90deg,rgba(170,90,150,0.6) 0%,rgba(60,25,80,0.4) 8%,rgba(30,12,50,0.35) 50%,rgba(60,25,80,0.4) 92%,rgba(170,90,150,0.6) 100%);"></div><div style="position:absolute;left:26px;top:59px;width:48px;height:12px;border-radius:12px 12px 0 0 / 10px 10px 0 0;background:radial-gradient(ellipse 30% 60% at 8% 70%,rgba(240,150,150,0.8),rgba(240,150,150,0) 100%),radial-gradient(ellipse 30% 60% at 92% 70%,rgba(240,150,150,0.8),rgba(240,150,150,0) 100%),linear-gradient(180deg,rgba(150,90,190,0.45),rgba(150,90,190,0.1));"></div><div style="position:absolute;left:26px;top:117px;width:48px;height:66px;background:linear-gradient(90deg,rgba(200,90,20,0.35) 0%,rgba(200,90,20,0) 12%,rgba(200,90,20,0) 88%,rgba(200,90,20,0.35) 100%),linear-gradient(180deg,#ffd8a0 0px,#ffd8a0 6px,#f89c48 11px,#f89c48 55%,#ffb870 80%,#ffb870 90%,#f08a40 95%,#f08a40 100%);"></div><div style="position:absolute;left:28px;top:25px;width:45px;height:35px;border-radius:3px 3px 1px 1px;background:linear-gradient(90deg,#0b0b10 0%,#16161c 10%,#34343e 17%,#101016 24%,#121218 40%,#2c2c36 47%,#0f0f14 54%,#131319 70%,#30303a 78%,#0f0f14 86%,#0b0b10 100%);"></div></div>
<div style="position:absolute;left:384px;top:641px;width:97px;height:183px;overflow:hidden;background:linear-gradient(180deg,#0e1a78 0%,#0e1a78 38%,#0c1556 62%,#0a0c2c 85%,#0a0c2c 100%);"><div style="position:absolute;left:7px;top:70px;width:82px;height:123px;background:radial-gradient(ellipse 50% 55% at 50% 65%,rgba(8,8,22,0.9) 40%,rgba(8,8,22,0) 100%);"></div><div style="position:absolute;left:0;top:163px;width:97px;height:14px;background:linear-gradient(180deg,rgba(14,30,90,0.8) 0%,#10286a 30%,#2256c0 46%,#3c80f0 52%,#2050b0 58%,#0e2458 72%,#0a1236 100%);"></div><div style="position:absolute;left:23px;top:57px;width:50px;height:126px;border-radius:10px 10px 2px 2px / 10px 10px 2px 2px;background:linear-gradient(90deg,rgba(0,0,0,0) 19%,rgba(255,235,255,0.75) 24%,rgba(0,0,0,0) 29%,rgba(0,0,0,0) 36%,rgba(255,235,255,0.4) 40%,rgba(0,0,0,0) 45%,rgba(0,0,0,0) 54%,rgba(255,235,255,0.7) 59%,rgba(0,0,0,0) 65%),linear-gradient(90deg,rgba(170,90,150,0.6) 0%,rgba(60,25,80,0.4) 8%,rgba(30,12,50,0.35) 50%,rgba(60,25,80,0.4) 92%,rgba(170,90,150,0.6) 100%);"></div><div style="position:absolute;left:23px;top:59px;width:50px;height:12px;border-radius:12px 12px 0 0 / 10px 10px 0 0;background:radial-gradient(ellipse 30% 60% at 8% 70%,rgba(240,150,150,0.8),rgba(240,150,150,0) 100%),radial-gradient(ellipse 30% 60% at 92% 70%,rgba(240,150,150,0.8),rgba(240,150,150,0) 100%),linear-gradient(180deg,rgba(150,90,190,0.45),rgba(150,90,190,0.1));"></div><div style="position:absolute;left:23px;top:120px;width:50px;height:63px;background:linear-gradient(90deg,rgba(200,90,20,0.35) 0%,rgba(200,90,20,0) 12%,rgba(200,90,20,0) 88%,rgba(200,90,20,0.35) 100%),linear-gradient(180deg,#ffc4a8 0px,#ffc4a8 6px,#f08a5c 11px,#f08a5c 55%,#f4a080 80%,#f4a080 90%,#e87858 95%,#e87858 100%);"></div><div style="position:absolute;left:25px;top:25px;width:47px;height:35px;border-radius:3px 3px 1px 1px;background:linear-gradient(90deg,#0b0b10 0%,#16161c 10%,#34343e 17%,#101016 24%,#121218 40%,#2c2c36 47%,#0f0f14 54%,#131319 70%,#30303a 78%,#0f0f14 86%,#0b0b10 100%);"></div></div>
<div class="t" style="left:31.5px;top:643px;font-size:21.5px;color:#fff;">25 <span style="font-size:14px;vertical-align:6.5px;">o</span>C</div>
<div class="t" style="left:130.0px;top:643px;font-size:21.5px;color:#fff;">29 <span style="font-size:14px;vertical-align:6.5px;">o</span>C</div>
<div class="t" style="left:223.7px;top:643px;font-size:21.5px;color:#fff;">33 <span style="font-size:14px;vertical-align:6.5px;">o</span>C</div>
<div class="t" style="left:315.0px;top:643px;font-size:21.5px;color:#fff;">37 <span style="font-size:14px;vertical-align:6.5px;">o</span>C</div>
<div class="t" style="left:406.5px;top:643px;font-size:21.5px;color:#fff;">40 <span style="font-size:14px;vertical-align:6.5px;">o</span>C</div>
<svg style="position:absolute;left:0;top:0" width="1073" height="872" viewBox="0 0 1073 872" font-family='"Liberation Sans", sans-serif'>
<g fill="none" stroke="#333" stroke-width="1.3">
<rect x="592" y="455" width="471.5" height="350.5"/>
<line x1="585" y1="805.5" x2="592" y2="805.5"/><line x1="588.5" y1="766.6" x2="592" y2="766.6"/><line x1="585" y1="727.7" x2="592" y2="727.7"/><line x1="588.5" y1="688.8" x2="592" y2="688.8"/><line x1="585" y1="649.9" x2="592" y2="649.9"/><line x1="588.5" y1="611.0" x2="592" y2="611.0"/><line x1="585" y1="572.1" x2="592" y2="572.1"/><line x1="588.5" y1="533.2" x2="592" y2="533.2"/><line x1="585" y1="494.3" x2="592" y2="494.3"/><line x1="592.3" y1="805.5" x2="592.3" y2="808.8"/><line x1="655.0" y1="805.5" x2="655.0" y2="811.5"/><line x1="717.7" y1="805.5" x2="717.7" y2="808.8"/><line x1="780.4" y1="805.5" x2="780.4" y2="811.5"/><line x1="843.0" y1="805.5" x2="843.0" y2="808.8"/><line x1="905.7" y1="805.5" x2="905.7" y2="811.5"/><line x1="968.4" y1="805.5" x2="968.4" y2="808.8"/><line x1="1031.0" y1="805.5" x2="1031.0" y2="811.5"/>
</g>
<g font-size="21" fill="#111"><text x="581.5" y="811.0" text-anchor="end">0</text><text x="581.5" y="733.2" text-anchor="end">200</text><text x="581.5" y="655.4" text-anchor="end">400</text><text x="581.5" y="577.6" text-anchor="end">600</text><text x="581.5" y="499.8" text-anchor="end">800</text><text x="655.0" y="832.5" text-anchor="middle">500</text><text x="780.4" y="832.5" text-anchor="middle">600</text><text x="905.7" y="832.5" text-anchor="middle">700</text><text x="1031.0" y="832.5" text-anchor="middle">800</text></g>
<text x="726" y="858" font-size="27" fill="#111">Wavelength (nm)</text>
<text transform="translate(520.5,730.5) rotate(-90)" font-size="27" fill="#111">FL Intensity (a.u.)</text>
<defs><linearGradient id="dg" x1="0" y1="533" x2="0" y2="624" gradientUnits="userSpaceOnUse">
<stop offset="0" stop-color="#0010f0"/><stop offset="0.35" stop-color="#4060e8"/><stop offset="0.62" stop-color="#9cbce8"/><stop offset="0.75" stop-color="#b8d4ec"/><stop offset="1" stop-color="#b4d2ec"/></linearGradient></defs>
<path d="M675.8,533 L692.7,533 L692.7,624 L701.2,624 L684.2,641 L667.8,624 L675.8,624 Z" fill="url(#dg)"/>
<polyline points="628.7,801.6 630.6,801.7 632.4,800.7 634.3,801.5 636.2,800.5 638.1,800.6 640.0,800.9 641.8,799.8 643.7,800.3 645.6,799.2 647.5,799.4 649.4,798.8 651.2,797.7 653.1,796.3 655.0,796.8 656.9,795.6 658.8,793.7 660.6,791.6 662.5,790.4 664.4,788.5 666.3,784.9 668.2,783.6 670.0,779.2 671.9,777.1 673.8,774.5 675.7,772.0 677.6,769.3 679.4,766.1 681.3,764.8 683.2,761.5 685.1,758.5 687.0,756.0 688.8,752.6 690.7,750.1 692.6,746.6 694.5,742.7 696.4,738.0 698.2,734.3 700.1,730.2 702.0,725.2 703.9,720.4 705.8,715.3 707.6,708.6 709.5,702.6 711.4,696.9 713.3,689.5 715.2,682.5 717.0,674.6 718.9,667.6 720.8,661.2 722.7,653.0 724.6,647.8 726.4,640.9 728.3,634.2 730.2,629.2 732.1,622.7 734.0,617.5 735.9,610.5 737.7,604.2 739.6,598.1 741.5,591.0 743.4,585.5 745.3,578.4 747.1,572.0 749.0,566.0 750.9,560.8 752.8,555.2 754.7,550.3 756.5,546.6 758.4,541.7 760.3,538.2 762.2,532.8 764.1,529.0 765.9,525.0 767.8,522.1 769.7,520.0 771.6,517.0 773.5,513.9 775.3,512.7 777.2,510.0 779.1,508.8 781.0,507.2 782.9,505.6 784.7,502.8 786.6,502.4 788.5,500.8 790.4,499.3 792.3,497.4 794.1,497.8 796.0,496.4 797.9,495.7 799.8,494.8 801.7,495.4 803.5,496.2 805.4,498.3 807.3,499.4 809.2,501.1 811.1,501.9 812.9,503.7 814.8,507.1 816.7,509.0 818.6,511.1 820.5,513.8 822.3,516.4 824.2,519.6 826.1,523.7 828.0,527.7 829.9,530.7 831.7,534.6 833.6,538.4 835.5,542.1 837.4,547.2 839.3,552.5 841.1,557.7 843.0,563.2 844.9,569.9 846.8,574.3 848.7,580.5 850.5,586.7 852.4,593.5 854.3,600.5 856.2,606.5 858.1,612.8 859.9,617.5 861.8,623.9 863.7,629.1 865.6,633.9 867.5,638.9 869.3,643.3 871.2,648.3 873.1,652.8 875.0,656.7 876.9,660.9 878.7,664.4 880.6,668.7 882.5,670.9 884.4,674.9 886.3,679.2 888.2,682.4 890.0,685.5 891.9,688.7 893.8,692.2 895.7,694.1 897.6,696.9 899.4,700.8 901.3,703.7 903.2,707.3 905.1,710.1 907.0,712.4 908.8,715.3 910.7,717.0 912.6,720.7 914.5,723.5 916.4,724.4 918.2,727.5 920.1,730.5 922.0,732.1 923.9,735.2 925.8,736.4 927.6,737.7 929.5,739.9 931.4,742.1 933.3,744.7 935.2,746.3 937.0,748.4 938.9,749.0 940.8,751.0 942.7,752.1 944.6,754.4 946.4,756.0 948.3,756.3 950.2,757.4 952.1,758.9 954.0,760.2 955.8,761.4 957.7,762.7 959.6,764.7 961.5,765.3 963.4,766.6 965.2,768.2 967.1,769.2 969.0,769.7 970.9,770.7 972.8,770.9 974.6,771.3 976.5,773.0 978.4,773.0 980.3,773.7 982.2,774.5 984.0,776.2 985.9,777.1 987.8,777.8 989.7,778.5 991.6,779.1 993.4,779.0 995.3,779.1 997.2,779.7 999.1,780.9 1001.0,781.1 1002.8,781.3 1004.7,783.0 1006.6,782.5 1008.5,782.5 1010.4,783.1" fill="none" stroke="#7a00ff" stroke-width="2.9" stroke-linejoin="round"/>
<polyline points="628.7,800.9 630.6,801.2 632.4,801.6 634.3,800.4 636.2,801.0 638.1,800.0 640.0,799.4 641.8,800.2 643.7,799.8 645.6,798.6 647.5,798.5 649.4,799.0 651.2,798.6 653.1,798.0 655.0,796.0 656.9,795.3 658.8,795.3 660.6,792.8 662.5,790.9 664.4,789.4 666.3,787.7 668.2,784.8 670.0,782.8 671.9,780.3 673.8,776.1 675.7,774.4 677.6,772.4 679.4,769.6 681.3,768.4 683.2,765.3 685.1,762.8 687.0,761.2 688.8,758.3 690.7,755.3 692.6,752.3 694.5,748.4 696.4,745.5 698.2,741.6 700.1,738.2 702.0,732.8 703.9,729.3 705.8,724.4 707.6,719.0 709.5,712.9 711.4,707.9 713.3,701.0 715.2,695.4 717.0,688.9 718.9,682.4 720.8,676.8 722.7,669.8 724.6,664.4 726.4,659.0 728.3,652.1 730.2,647.8 732.1,642.0 734.0,636.3 735.9,631.3 737.7,626.2 739.6,620.2 741.5,614.2 743.4,608.1 745.3,603.5 747.1,596.9 749.0,592.0 750.9,587.1 752.8,581.9 754.7,578.1 756.5,574.0 758.4,569.6 760.3,565.2 762.2,562.2 764.1,558.5 765.9,555.7 767.8,552.8 769.7,549.8 771.6,547.6 773.5,545.2 775.3,543.2 777.2,540.6 779.1,539.5 781.0,537.7 782.9,536.2 784.7,535.9 786.6,534.1 788.5,532.2 790.4,531.2 792.3,531.4 794.1,530.6 796.0,529.4 797.9,529.5 799.8,529.0 801.7,529.7 803.5,529.4 805.4,530.2 807.3,531.3 809.2,533.9 811.1,534.5 812.9,536.3 814.8,538.9 816.7,539.5 818.6,541.3 820.5,544.9 822.3,546.4 824.2,550.3 826.1,553.4 828.0,555.7 829.9,559.2 831.7,563.8 833.6,567.1 835.5,570.8 837.4,575.2 839.3,579.9 841.1,584.6 843.0,588.8 844.9,595.1 846.8,599.4 848.7,604.9 850.5,611.3 852.4,616.7 854.3,621.8 856.2,627.4 858.1,633.3 859.9,636.7 861.8,641.9 863.7,646.2 865.6,652.2 867.5,656.3 869.3,660.9 871.2,663.7 873.1,668.5 875.0,672.5 876.9,675.6 878.7,678.2 880.6,681.8 882.5,686.0 884.4,689.4 886.3,691.1 888.2,694.7 890.0,697.4 891.9,701.3 893.8,704.2 895.7,705.9 897.6,709.0 899.4,712.3 901.3,713.5 903.2,716.6 905.1,718.8 907.0,722.5 908.8,723.6 910.7,727.4 912.6,728.3 914.5,731.3 916.4,733.7 918.2,735.4 920.1,736.9 922.0,740.0 923.9,742.2 925.8,743.4 927.6,745.8 929.5,747.8 931.4,749.4 933.3,751.2 935.2,752.6 937.0,753.9 938.9,755.4 940.8,756.1 942.7,758.2 944.6,759.2 946.4,761.0 948.3,761.9 950.2,763.7 952.1,764.4 954.0,765.9 955.8,765.8 957.7,767.1 959.6,768.7 961.5,769.2 963.4,769.4 965.2,771.7 967.1,771.4 969.0,772.9 970.9,773.7 972.8,773.9 974.6,775.4 976.5,776.0 978.4,776.4 980.3,776.6 982.2,778.3 984.0,778.1 985.9,779.0 987.8,779.7 989.7,780.7 991.6,781.3 993.4,782.4 995.3,782.7 997.2,783.3 999.1,782.7 1001.0,783.9 1002.8,784.5 1004.7,785.1 1006.6,784.2 1008.5,784.5 1010.4,785.2" fill="none" stroke="#8a10f0" stroke-width="2.9" stroke-linejoin="round"/>
<polyline points="628.7,801.6 630.6,801.6 632.4,801.4 634.3,800.9 636.2,801.3 638.1,800.6 640.0,800.7 641.8,799.3 643.7,799.0 645.6,799.4 647.5,799.6 649.4,797.9 651.2,798.6 653.1,797.9 655.0,797.9 656.9,796.5 658.8,795.4 660.6,794.1 662.5,793.1 664.4,790.7 666.3,789.5 668.2,786.8 670.0,784.6 671.9,781.6 673.8,779.9 675.7,777.9 677.6,775.5 679.4,773.7 681.3,771.2 683.2,769.2 685.1,766.5 687.0,764.2 688.8,761.6 690.7,758.6 692.6,756.7 694.5,753.8 696.4,749.6 698.2,747.7 700.1,743.2 702.0,739.6 703.9,736.6 705.8,730.9 707.6,726.2 709.5,721.6 711.4,716.1 713.3,710.5 715.2,705.9 717.0,699.4 718.9,693.6 720.8,687.2 722.7,681.6 724.6,676.2 726.4,671.4 728.3,665.9 730.2,661.4 732.1,656.6 734.0,652.6 735.9,648.2 737.7,643.0 739.6,637.5 741.5,632.6 743.4,626.1 745.3,621.4 747.1,616.0 749.0,611.1 750.9,606.6 752.8,603.0 754.7,600.0 756.5,595.0 758.4,591.3 760.3,588.1 762.2,584.5 764.1,581.2 765.9,579.5 767.8,575.8 769.7,574.2 771.6,572.2 773.5,569.7 775.3,567.1 777.2,566.4 779.1,564.1 781.0,562.3 782.9,561.8 784.7,560.7 786.6,559.3 788.5,557.9 790.4,556.7 792.3,556.0 794.1,555.2 796.0,555.6 797.9,555.0 799.8,554.6 801.7,554.2 803.5,555.6 805.4,556.1 807.3,558.1 809.2,559.3 811.1,560.4 812.9,561.2 814.8,562.8 816.7,564.4 818.6,566.8 820.5,568.6 822.3,571.2 824.2,573.9 826.1,577.3 828.0,578.9 829.9,583.0 831.7,584.8 833.6,588.2 835.5,593.3 837.4,596.3 839.3,599.8 841.1,603.9 843.0,609.3 844.9,614.1 846.8,618.9 848.7,622.5 850.5,628.9 852.4,633.6 854.3,639.5 856.2,643.7 858.1,647.7 859.9,653.6 861.8,656.8 863.7,661.5 865.6,665.0 867.5,669.2 869.3,673.8 871.2,676.4 873.1,680.6 875.0,684.8 876.9,688.1 878.7,690.5 880.6,693.6 882.5,696.8 884.4,699.9 886.3,702.4 888.2,705.2 890.0,706.9 891.9,710.9 893.8,712.2 895.7,714.5 897.6,718.2 899.4,719.3 901.3,722.0 903.2,724.0 905.1,727.4 907.0,729.5 908.8,731.7 910.7,732.8 912.6,735.6 914.5,738.0 916.4,739.9 918.2,742.1 920.1,744.3 922.0,746.1 923.9,746.6 925.8,749.3 927.6,749.8 929.5,752.6 931.4,754.1 933.3,755.2 935.2,757.2 937.0,758.3 938.9,758.6 940.8,760.0 942.7,761.4 944.6,762.9 946.4,763.6 948.3,764.6 950.2,766.4 952.1,767.1 954.0,769.2 955.8,769.0 957.7,770.5 959.6,770.9 961.5,771.9 963.4,773.4 965.2,774.6 967.1,773.9 969.0,776.1 970.9,776.3 972.8,777.2 974.6,778.0 976.5,777.9 978.4,778.2 980.3,780.0 982.2,780.0 984.0,781.1 985.9,781.3 987.8,782.1 989.7,783.0 991.6,783.5 993.4,783.9 995.3,783.2 997.2,784.3 999.1,785.2 1001.0,784.5 1002.8,784.7 1004.7,786.0 1006.6,786.9 1008.5,787.2 1010.4,787.7" fill="none" stroke="#0a14f0" stroke-width="2.9" stroke-linejoin="round"/>
<polyline points="628.7,801.5 630.6,801.8 632.4,801.4 634.3,801.3 636.2,800.6 638.1,799.9 640.0,799.9 641.8,800.3 643.7,800.0 645.6,799.5 647.5,799.5 649.4,799.2 651.2,799.2 653.1,798.4 655.0,796.6 656.9,797.3 658.8,795.8 660.6,794.4 662.5,792.7 664.4,792.1 666.3,790.2 668.2,788.1 670.0,785.6 671.9,783.3 673.8,780.4 675.7,778.7 677.6,776.9 679.4,776.6 681.3,774.8 683.2,771.7 685.1,769.3 687.0,767.9 688.8,765.4 690.7,763.9 692.6,760.7 694.5,757.1 696.4,754.4 698.2,751.4 700.1,748.0 702.0,745.9 703.9,742.5 705.8,738.4 707.6,733.5 709.5,728.7 711.4,723.5 713.3,718.9 715.2,713.8 717.0,708.3 718.9,703.5 720.8,698.0 722.7,693.7 724.6,687.6 726.4,683.9 728.3,678.2 730.2,674.2 732.1,670.4 734.0,666.4 735.9,661.8 737.7,656.7 739.6,651.9 741.5,648.0 743.4,643.3 745.3,637.8 747.1,632.9 749.0,628.8 750.9,625.2 752.8,620.9 754.7,618.4 756.5,614.6 758.4,611.0 760.3,606.8 762.2,604.1 764.1,600.9 765.9,599.1 767.8,597.2 769.7,594.9 771.6,591.6 773.5,590.2 775.3,589.2 777.2,588.2 779.1,586.1 781.0,584.6 782.9,583.8 784.7,582.9 786.6,581.1 788.5,579.6 790.4,579.9 792.3,579.4 794.1,578.2 796.0,577.5 797.9,576.7 799.8,577.3 801.7,576.6 803.5,577.3 805.4,578.6 807.3,580.1 809.2,579.9 811.1,582.3 812.9,582.8 814.8,585.3 816.7,586.8 818.6,587.5 820.5,590.2 822.3,591.3 824.2,594.6 826.1,597.7 828.0,600.3 829.9,602.6 831.7,605.1 833.6,607.6 835.5,612.2 837.4,615.1 839.3,619.1 841.1,621.8 843.0,627.3 844.9,631.6 846.8,635.9 848.7,639.7 850.5,643.5 852.4,648.4 854.3,653.3 856.2,657.3 858.1,661.6 859.9,666.8 861.8,671.0 863.7,673.5 865.6,677.6 867.5,682.4 869.3,684.7 871.2,688.6 873.1,691.8 875.0,695.0 876.9,698.2 878.7,701.4 880.6,703.7 882.5,706.3 884.4,707.8 886.3,711.8 888.2,712.8 890.0,716.5 891.9,718.6 893.8,720.1 895.7,722.4 897.6,725.3 899.4,728.2 901.3,729.6 903.2,731.9 905.1,733.0 907.0,736.3 908.8,738.0 910.7,739.1 912.6,742.5 914.5,743.7 916.4,744.8 918.2,746.6 920.1,749.6 922.0,751.3 923.9,752.8 925.8,752.9 927.6,755.6 929.5,756.2 931.4,757.3 933.3,759.7 935.2,761.1 937.0,761.2 938.9,763.0 940.8,764.8 942.7,765.1 944.6,766.9 946.4,768.0 948.3,769.5 950.2,769.1 952.1,769.8 954.0,771.2 955.8,771.5 957.7,774.0 959.6,774.4 961.5,774.8 963.4,774.8 965.2,775.5 967.1,777.3 969.0,778.2 970.9,778.6 972.8,779.1 974.6,779.0 976.5,780.9 978.4,780.4 980.3,781.1 982.2,781.5 984.0,782.2 985.9,783.0 987.8,783.9 989.7,784.4 991.6,784.8 993.4,784.5 995.3,786.1 997.2,786.3 999.1,785.8 1001.0,787.0 1002.8,787.7 1004.7,788.1 1006.6,787.5 1008.5,788.2 1010.4,787.4 1012.9,779.2" fill="none" stroke="#0000a8" stroke-width="2.9" stroke-linejoin="round"/>
<polyline points="628.7,800.5 630.6,800.2 632.4,801.3 634.3,801.5 636.2,801.4 638.1,800.5 640.0,800.0 641.8,800.2 643.7,800.3 645.6,799.8 647.5,799.1 649.4,798.7 651.2,798.2 653.1,797.6 655.0,797.4 656.9,797.6 658.8,795.6 660.6,795.5 662.5,793.7 664.4,792.6 666.3,790.2 668.2,789.2 670.0,787.1 671.9,785.0 673.8,783.2 675.7,780.3 677.6,779.2 679.4,778.0 681.3,776.3 683.2,773.5 685.1,772.4 687.0,770.9 688.8,767.8 690.7,765.8 692.6,762.9 694.5,761.9 696.4,758.6 698.2,755.3 700.1,752.3 702.0,749.1 703.9,747.3 705.8,743.2 707.6,739.6 709.5,735.3 711.4,729.5 713.3,725.6 715.2,720.2 717.0,716.3 718.9,710.5 720.8,706.4 722.7,702.0 724.6,696.6 726.4,692.0 728.3,689.3 730.2,684.4 732.1,680.3 734.0,677.0 735.9,672.7 737.7,669.0 739.6,664.5 741.5,660.0 743.4,655.1 745.3,650.6 747.1,647.0 749.0,643.2 750.9,639.0 752.8,635.1 754.7,632.8 756.5,629.5 758.4,626.6 760.3,622.5 762.2,620.0 764.1,618.2 765.9,615.9 767.8,613.2 769.7,610.9 771.6,608.8 773.5,608.0 775.3,606.3 777.2,604.1 779.1,603.4 781.0,602.5 782.9,601.3 784.7,599.2 786.6,599.2 788.5,597.9 790.4,597.4 792.3,596.5 794.1,595.1 796.0,594.4 797.9,595.1 799.8,595.2 801.7,594.6 803.5,596.1 805.4,597.2 807.3,596.6 809.2,598.4 811.1,598.9 812.9,600.9 814.8,601.4 816.7,603.5 818.6,605.5 820.5,607.5 822.3,608.7 824.2,610.8 826.1,612.7 828.0,616.6 829.9,618.1 831.7,621.2 833.6,623.7 835.5,627.3 837.4,630.2 839.3,633.1 841.1,636.1 843.0,641.3 844.9,644.4 846.8,647.8 848.7,651.6 850.5,657.2 852.4,661.8 854.3,664.7 856.2,668.7 858.1,673.4 859.9,678.0 861.8,680.1 863.7,684.6 865.6,687.1 867.5,690.9 869.3,693.7 871.2,697.9 873.1,699.8 875.0,703.6 876.9,706.0 878.7,707.9 880.6,710.5 882.5,714.1 884.4,716.4 886.3,718.4 888.2,720.5 890.0,723.0 891.9,725.6 893.8,727.5 895.7,728.8 897.6,730.5 899.4,734.0 901.3,735.1 903.2,736.7 905.1,739.9 907.0,740.4 908.8,743.4 910.7,744.4 912.6,746.3 914.5,747.8 916.4,750.1 918.2,751.5 920.1,752.8 922.0,754.6 923.9,755.7 925.8,757.5 927.6,758.9 929.5,760.9 931.4,761.2 933.3,762.7 935.2,764.3 937.0,764.6 938.9,765.7 940.8,767.3 942.7,768.8 944.6,769.3 946.4,770.9 948.3,771.8 950.2,772.1 952.1,773.6 954.0,773.8 955.8,774.5 957.7,776.1 959.6,775.8 961.5,777.5 963.4,777.1 965.2,777.8 967.1,778.9 969.0,780.3 970.9,780.2 972.8,781.0 974.6,780.6 976.5,782.6 978.4,781.9 980.3,782.2 982.2,783.1 984.0,783.5 985.9,785.0 987.8,784.1 989.7,785.4 991.6,785.0 993.4,785.5 995.3,787.2 997.2,786.5 999.1,786.6 1001.0,788.4 1002.8,788.3 1004.7,787.9 1006.6,789.2 1008.5,788.2 1010.4,789.6" fill="none" stroke="#0a10f0" stroke-width="2.9" stroke-linejoin="round"/>
<polyline points="628.7,800.5 630.6,801.6 632.4,800.9 634.3,800.0 636.2,801.1 638.1,800.9 640.0,800.3 641.8,800.4 643.7,800.7 645.6,800.2 647.5,800.0 649.4,798.3 651.2,798.4 653.1,797.7 655.0,798.4 656.9,796.8 658.8,797.2 660.6,795.5 662.5,794.2 664.4,793.3 666.3,790.8 668.2,789.6 670.0,787.7 671.9,785.3 673.8,784.9 675.7,781.8 677.6,780.9 679.4,779.9 681.3,777.7 683.2,777.0 685.1,774.1 687.0,772.9 688.8,771.4 690.7,768.6 692.6,767.0 694.5,765.2 696.4,761.9 698.2,760.6 700.1,756.6 702.0,754.7 703.9,751.0 705.8,747.1 707.6,744.2 709.5,740.3 711.4,736.9 713.3,733.2 715.2,728.8 717.0,724.1 718.9,718.9 720.8,714.7 722.7,710.3 724.6,705.6 726.4,702.9 728.3,699.0 730.2,694.6 732.1,692.0 734.0,688.4 735.9,684.1 737.7,680.8 739.6,676.4 741.5,672.6 743.4,668.0 745.3,664.0 747.1,660.6 749.0,656.2 750.9,653.1 752.8,650.7 754.7,646.4 756.5,644.8 758.4,642.1 760.3,639.4 762.2,635.9 764.1,633.1 765.9,631.2 767.8,629.9 769.7,628.2 771.6,626.9 773.5,624.2 775.3,622.9 777.2,622.1 779.1,620.5 781.0,619.8 782.9,618.0 784.7,617.4 786.6,617.3 788.5,615.3 790.4,616.0 792.3,614.4 794.1,614.1 796.0,613.9 797.9,613.9 799.8,612.5 801.7,614.1 803.5,613.7 805.4,613.7 807.3,615.9 809.2,616.8 811.1,617.2 812.9,618.5 814.8,619.5 816.7,620.4 818.6,622.8 820.5,624.2 822.3,626.1 824.2,628.6 826.1,629.4 828.0,631.8 829.9,634.1 831.7,637.7 833.6,638.8 835.5,641.7 837.4,645.0 839.3,647.6 841.1,651.4 843.0,655.3 844.9,658.9 846.8,662.3 848.7,666.3 850.5,669.7 852.4,673.1 854.3,677.1 856.2,680.5 858.1,684.3 859.9,688.5 861.8,691.4 863.7,694.8 865.6,697.3 867.5,700.7 869.3,704.1 871.2,706.2 873.1,708.4 875.0,712.3 876.9,713.6 878.7,717.5 880.6,719.4 882.5,721.7 884.4,723.0 886.3,724.8 888.2,727.2 890.0,729.9 891.9,731.0 893.8,733.9 895.7,735.9 897.6,736.6 899.4,739.0 901.3,740.7 903.2,742.5 905.1,743.7 907.0,746.3 908.8,747.3 910.7,749.2 912.6,750.5 914.5,752.8 916.4,753.8 918.2,755.6 920.1,757.5 922.0,759.0 923.9,759.7 925.8,761.9 927.6,761.7 929.5,764.3 931.4,765.7 933.3,766.7 935.2,766.4 937.0,768.4 938.9,769.8 940.8,771.0 942.7,771.9 944.6,771.7 946.4,772.7 948.3,773.4 950.2,774.1 952.1,776.1 954.0,775.9 955.8,777.0 957.7,777.0 959.6,777.7 961.5,778.2 963.4,780.3 965.2,779.6 967.1,780.1 969.0,780.6 970.9,782.6 972.8,783.0 974.6,783.7 976.5,784.4 978.4,783.5 980.3,784.0 982.2,784.8 984.0,784.9 985.9,785.7 987.8,786.7 989.7,787.4 991.6,787.8 993.4,787.0 995.3,788.3 997.2,788.5 999.1,788.6 1001.0,789.6 1002.8,789.5 1004.7,789.7 1006.6,789.3 1008.5,790.1 1010.4,790.5 1012.9,780.7" fill="none" stroke="#0000b4" stroke-width="2.9" stroke-linejoin="round"/>
<polyline points="628.7,800.1 630.6,800.8 632.4,800.2 634.3,800.5 636.2,801.4 638.1,800.6 640.0,800.4 641.8,799.6 643.7,800.2 645.6,799.3 647.5,799.4 649.4,799.6 651.2,798.2 653.1,799.1 655.0,797.5 656.9,798.0 658.8,797.6 660.6,796.4 662.5,794.4 664.4,792.7 666.3,792.9 668.2,790.5 670.0,788.8 671.9,786.5 673.8,785.9 675.7,784.0 677.6,782.9 679.4,780.7 681.3,780.3 683.2,777.7 685.1,777.2 687.0,775.6 688.8,773.0 690.7,771.4 692.6,770.1 694.5,767.1 696.4,765.9 698.2,762.4 700.1,760.1 702.0,757.3 703.9,754.8 705.8,752.2 707.6,748.8 709.5,745.3 711.4,740.7 713.3,738.2 715.2,732.8 717.0,730.2 718.9,725.8 720.8,721.6 722.7,716.5 724.6,713.4 726.4,710.0 728.3,705.7 730.2,703.4 732.1,699.6 734.0,696.1 735.9,692.4 737.7,688.9 739.6,685.4 741.5,682.2 743.4,678.6 745.3,675.2 747.1,670.3 749.0,667.2 750.9,664.0 752.8,662.1 754.7,659.0 756.5,655.9 758.4,653.6 760.3,651.8 762.2,648.8 764.1,645.8 765.9,645.1 767.8,643.3 769.7,641.4 771.6,639.1 773.5,637.4 775.3,637.3 777.2,636.1 779.1,635.0 781.0,633.9 782.9,632.6 784.7,632.4 786.6,631.2 788.5,630.7 790.4,628.6 792.3,628.4 794.1,628.9 796.0,627.0 797.9,628.2 799.8,627.5 801.7,626.8 803.5,627.6 805.4,628.3 807.3,629.6 809.2,630.9 811.1,631.2 812.9,633.1 814.8,634.1 816.7,634.9 818.6,636.8 820.5,637.6 822.3,638.7 824.2,640.8 826.1,643.1 828.0,644.9 829.9,647.3 831.7,650.1 833.6,651.6 835.5,654.4 837.4,656.5 839.3,659.0 841.1,662.9 843.0,665.8 844.9,668.7 846.8,672.6 848.7,676.4 850.5,679.1 852.4,682.6 854.3,686.4 856.2,689.9 858.1,692.9 859.9,696.4 861.8,699.6 863.7,702.8 865.6,706.0 867.5,708.2 869.3,711.8 871.2,713.8 873.1,715.7 875.0,718.2 876.9,720.6 878.7,723.5 880.6,725.3 882.5,727.4 884.4,729.1 886.3,731.4 888.2,732.9 890.0,734.3 891.9,737.4 893.8,738.4 895.7,739.9 897.6,742.3 899.4,743.9 901.3,744.7 903.2,747.9 905.1,748.7 907.0,750.9 908.8,751.4 910.7,752.6 912.6,754.8 914.5,757.0 916.4,757.6 918.2,759.0 920.1,760.0 922.0,761.7 923.9,762.7 925.8,763.6 927.6,765.3 929.5,766.6 931.4,766.8 933.3,769.1 935.2,769.3 937.0,770.8 938.9,771.1 940.8,773.1 942.7,772.5 944.6,774.4 946.4,775.7 948.3,776.1 950.2,776.6 952.1,778.0 954.0,778.0 955.8,778.7 957.7,778.9 959.6,780.1 961.5,780.9 963.4,781.6 965.2,781.3 967.1,781.5 969.0,782.8 970.9,783.8 972.8,783.3 974.6,784.5 976.5,785.3 978.4,785.9 980.3,785.2 982.2,785.6 984.0,786.3 985.9,787.0 987.8,787.2 989.7,788.2 991.6,787.3 993.4,788.6 995.3,788.5 997.2,788.5 999.1,788.8 1001.0,789.7 1002.8,790.2 1004.7,790.1 1006.6,791.1 1008.5,790.1 1010.4,791.1" fill="none" stroke="#000090" stroke-width="2.9" stroke-linejoin="round"/>
<polyline points="628.7,800.2 630.6,801.1 632.4,800.8 634.3,801.0 636.2,800.6 638.1,800.8 640.0,801.0 641.8,799.6 643.7,800.2 645.6,800.0 647.5,799.7 649.4,799.1 651.2,798.9 653.1,798.2 655.0,797.7 656.9,797.7 658.8,796.1 660.6,795.4 662.5,795.7 664.4,793.2 666.3,791.7 668.2,790.4 670.0,789.8 671.9,787.0 673.8,785.8 675.7,785.5 677.6,784.2 679.4,781.3 681.3,780.5 683.2,779.8 685.1,778.6 687.0,776.9 688.8,775.0 690.7,772.3 692.6,771.2 694.5,769.5 696.4,766.1 698.2,764.1 700.1,762.9 702.0,759.2 703.9,757.0 705.8,753.8 707.6,750.8 709.5,747.1 711.4,743.8 713.3,740.0 715.2,737.3 717.0,732.5 718.9,728.9 720.8,724.6 722.7,721.4 724.6,717.0 726.4,714.1 728.3,711.3 730.2,708.1 732.1,705.1 734.0,701.3 735.9,698.8 737.7,694.8 739.6,691.9 741.5,687.8 743.4,684.3 745.3,680.7 747.1,676.7 749.0,674.8 750.9,670.5 752.8,668.5 754.7,665.8 756.5,663.2 758.4,660.4 760.3,658.7 762.2,656.3 764.1,653.3 765.9,653.0 767.8,650.3 769.7,648.7 771.6,648.2 773.5,645.8 775.3,644.4 777.2,642.9 779.1,643.0 781.0,641.0 782.9,640.9 784.7,640.1 786.6,638.6 788.5,639.3 790.4,637.5 792.3,637.0 794.1,637.0 796.0,635.7 797.9,636.3 799.8,635.9 801.7,636.1 803.5,636.2 805.4,637.7 807.3,638.1 809.2,638.9 811.1,639.7 812.9,640.2 814.8,642.2 816.7,642.4 818.6,644.2 820.5,645.5 822.3,647.6 824.2,649.0 826.1,650.1 828.0,652.6 829.9,654.3 831.7,657.2 833.6,659.4 835.5,661.8 837.4,663.8 839.3,666.4 841.1,669.1 843.0,673.4 844.9,675.3 846.8,678.1 848.7,681.9 850.5,686.2 852.4,689.3 854.3,693.3 856.2,696.2 858.1,698.1 859.9,701.6 861.8,704.5 863.7,707.1 865.6,709.6 867.5,712.7 869.3,715.2 871.2,717.7 873.1,719.9 875.0,722.4 876.9,724.4 878.7,727.3 880.6,728.6 882.5,730.9 884.4,732.3 886.3,735.3 888.2,737.0 890.0,739.0 891.9,739.5 893.8,740.9 895.7,743.0 897.6,745.2 899.4,746.0 901.3,747.7 903.2,749.6 905.1,751.7 907.0,753.1 908.8,754.3 910.7,756.0 912.6,757.2 914.5,758.2 916.4,759.0 918.2,761.8 920.1,762.2 922.0,764.3 923.9,765.3 925.8,765.3 927.6,766.8 929.5,767.3 931.4,769.2 933.3,770.9 935.2,771.2 937.0,771.8 938.9,772.1 940.8,772.9 942.7,774.6 944.6,775.5 946.4,776.8 948.3,776.6 950.2,778.0 952.1,778.8 954.0,779.7 955.8,780.4 957.7,779.9 959.6,781.4 961.5,780.6 963.4,782.7 965.2,781.9 967.1,783.7 969.0,784.4 970.9,783.7 972.8,785.0 974.6,784.6 976.5,786.0 978.4,786.7 980.3,785.9 982.2,786.4 984.0,786.5 985.9,787.1 987.8,788.6 989.7,788.0 991.6,788.2 993.4,789.0 995.3,788.5 997.2,789.9 999.1,789.0 1001.0,789.7 1002.8,791.1 1004.7,791.4 1006.6,790.5 1008.5,790.5 1010.4,792.0 1012.9,780.7" fill="none" stroke="#000080" stroke-width="2.9" stroke-linejoin="round"/>
<rect x="956.6" y="460.6" width="96.9" height="258" fill="#fff" stroke="#333" stroke-width="1.2"/>
<g fill="#111"><line x1="960.5" y1="486.5" x2="1000" y2="486.5" stroke="#7a00ff" stroke-width="3"/><text x="1003" y="492.0" font-size="16">25</text><text x="1027.2" y="483.1" font-size="16">o</text><text x="1038.5" y="492.0" font-size="16">C</text><line x1="960.5" y1="518.4" x2="1000" y2="518.4" stroke="#8a10f0" stroke-width="3"/><text x="1003" y="523.9" font-size="16">27</text><text x="1027.2" y="515.0" font-size="16">o</text><text x="1038.5" y="523.9" font-size="16">C</text><line x1="960.5" y1="550.3" x2="1000" y2="550.3" stroke="#0a14f0" stroke-width="3"/><text x="1003" y="555.8" font-size="16">29</text><text x="1027.2" y="546.9" font-size="16">o</text><text x="1038.5" y="555.8" font-size="16">C</text><line x1="960.5" y1="582.2" x2="1000" y2="582.2" stroke="#0000a8" stroke-width="3"/><text x="1003" y="587.7" font-size="16">31</text><text x="1027.2" y="578.8" font-size="16">o</text><text x="1038.5" y="587.7" font-size="16">C</text><line x1="960.5" y1="614.1" x2="1000" y2="614.1" stroke="#0a10f0" stroke-width="3"/><text x="1003" y="619.6" font-size="16">33</text><text x="1027.2" y="610.7" font-size="16">o</text><text x="1038.5" y="619.6" font-size="16">C</text><line x1="960.5" y1="646.0" x2="1000" y2="646.0" stroke="#0000b4" stroke-width="3"/><text x="1003" y="651.5" font-size="16">35</text><text x="1027.2" y="642.6" font-size="16">o</text><text x="1038.5" y="651.5" font-size="16">C</text><line x1="960.5" y1="677.9" x2="1000" y2="677.9" stroke="#000090" stroke-width="3"/><text x="1003" y="683.4" font-size="16">37</text><text x="1027.2" y="674.5" font-size="16">o</text><text x="1038.5" y="683.4" font-size="16">C</text><line x1="960.5" y1="709.8" x2="1000" y2="709.8" stroke="#000080" stroke-width="3"/><text x="1003" y="715.3" font-size="16">40</text><text x="1027.2" y="706.4" font-size="16">o</text><text x="1038.5" y="715.3" font-size="16">C</text></g>
</svg>
</body></html>
